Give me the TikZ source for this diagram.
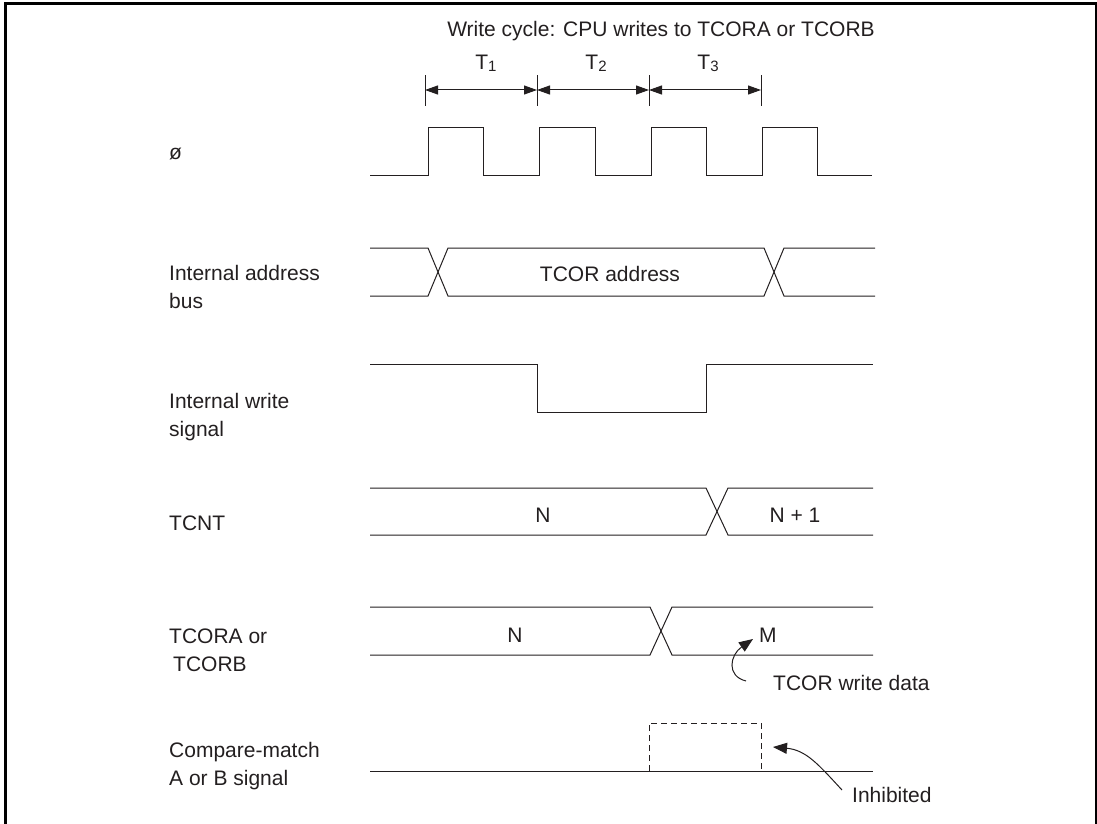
\documentclass[tikz,border=0pt]{standalone}
\usepackage{fontspec}
\setmainfont{Liberation Sans}
\usetikzlibrary{arrows.meta}
\definecolor{ink}{HTML}{231F20}
\begin{document}
\begin{tikzpicture}[x=1pt,y=-1pt,
  sig/.style={line width=1pt, draw=ink, line join=miter},
  lbl/.style={anchor=base west, inner sep=0pt, font=\fontsize{21}{25}\selectfont, text=ink},
  val/.style={anchor=base, inner sep=0pt, font=\fontsize{21}{25}\selectfont, text=ink},
  tick/.style={line width=1pt, draw=ink},
  span/.style={line width=1pt, draw=ink, {Triangle[length=13pt,width=9pt]}-{Triangle[length=13pt,width=9pt]}},
  note/.style={line width=1pt, draw=ink, -{Triangle[length=14pt,width=11pt]}}]
\useasboundingbox (0,0) rectangle (1097,824);
\clip (0,0) rectangle (1097,824);
% frame
\draw[line width=3pt, draw=black] (5.5,830) -- (5.5,4) -- (1096,4) -- (1096,830);
% title
\node[val] (title) at (661,37) {Write cycle: CPU writes to TCORA or TCORB};
% T markers
\coordinate (ta) at (425,90); \coordinate (tb) at (537,90);
\coordinate (tc) at (649,90); \coordinate (td) at (761,90);
\foreach \c in {ta,tb,tc,td} \draw[tick] ([yshift=-16pt]\c) -- ([yshift=15pt]\c);
\draw[span] (ta) -- (tb);
\draw[span] (tb) -- (tc);
\draw[span] (tc) -- (td);
\newcommand{\Tsub}[1]{T\raisebox{-0.15ex}{\fontsize{15}{15}\selectfont #1}}
\node[val] (T1) at (486,70) {\Tsub{1}};
\node[val] (T2) at (596,70) {\Tsub{2}};
\node[val] (T3) at (708,70) {\Tsub{3}};
% labels
\node[lbl] (lphi) at (169,159) {ø};
\node[lbl] (laddr1) at (169,280) {Internal address};
\node[lbl] (laddr2) at (169,308) {bus};
\node[lbl] (lwr1) at (169,408) {Internal write};
\node[lbl] (lwr2) at (169,436) {signal};
\node[lbl] (ltcnt) at (169,530) {TCNT};
\node[lbl] (ltcor1) at (169,643) {TCORA or};
\node[lbl] (ltcor2) at (173,671) {TCORB};
\node[lbl] (lcmp1) at (169,757) {Compare-match};
\node[lbl] (lcmp2) at (169,785) {A or B signal};
% clock
\draw[sig] (370,175) -- (428,175) -- (428,128) -- (483,128) -- (483,175)
  -- (539,175) -- (539,128) -- (595,128) -- (595,175)
  -- (651,175) -- (651,128) -- (706,128) -- (706,175)
  -- (762,175) -- (762,128) -- (817,128) -- (817,175) -- (872,175);
% address bus
\draw[sig] (370,248) -- (428,248) -- (448,296) -- (764,296) -- (784,248) -- (875,248);
\draw[sig] (370,296) -- (428,296) -- (448,248) -- (764,248) -- (784,296) -- (875,296);
\node[val] (vaddr) at (610,281) {TCOR address};
% write signal
\draw[sig] (370,364) -- (537,364) -- (537,412) -- (706,412) -- (706,364) -- (873,364);
% TCNT
\draw[sig] (370,488) -- (706,488) -- (728,535) -- (873,535);
\draw[sig] (370,535) -- (706,535) -- (728,488) -- (873,488);
\node[val] (vn1) at (543,522) {N};
\node[val] (vn2) at (795,522) {N + 1};
% TCORA/B
\draw[sig] (370,607) -- (650,607) -- (672,655) -- (873,655);
\draw[sig] (370,655) -- (650,655) -- (672,607) -- (873,607);
\node[val] (vn3) at (515,642) {N};
\node[lbl] (vm) at (759,642) {M};
\node[lbl] (wdata) at (773,690) {TCOR write data};
\coordinate (wtail) at (746,681);
\coordinate (wtip) at (753,639);
\draw[note] (wtail) .. controls (726,676) and (730,655) .. (wtip);
% compare match
\draw[sig] (370,771) -- (873,771);
\draw[line width=1pt, draw=ink, dash pattern=on 6pt off 4pt] (649,771) -- (649,723) -- (761,723) -- (761,771);
\node[lbl] (inh) at (852,802) {Inhibited};
\coordinate (itail) at (842,790);
\coordinate (itip) at (773,747);
\draw[note] (itail) .. controls (818,764) and (806,750) .. (itip);
\end{tikzpicture}
\end{document}
